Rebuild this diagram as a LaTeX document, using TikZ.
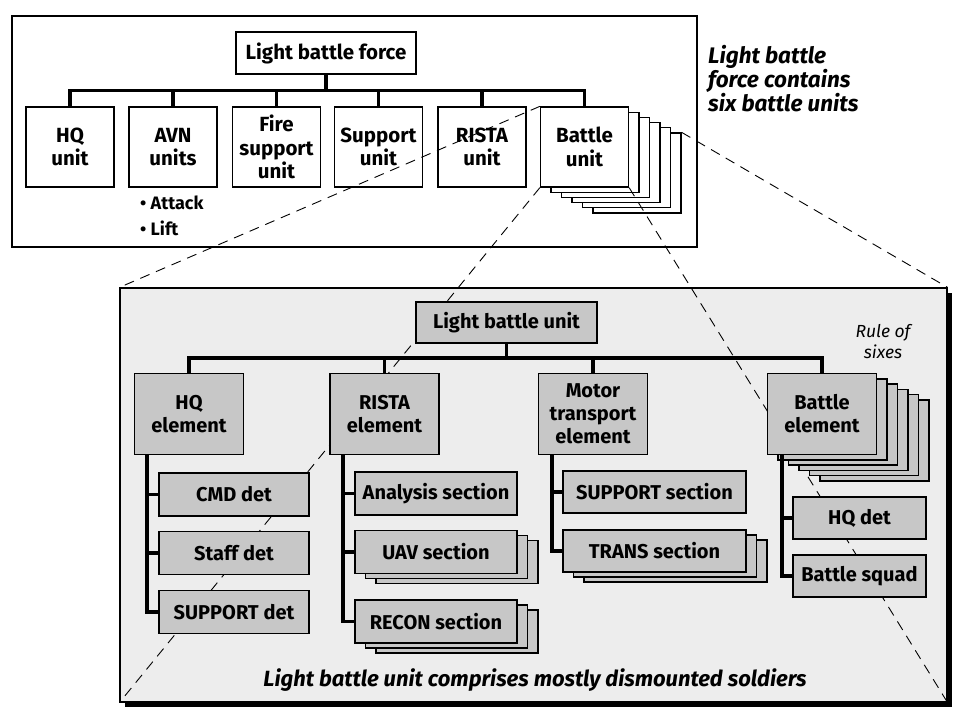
\documentclass[tikz,border=0pt]{standalone}
\usepackage{fontspec}
\setmainfont{Fira Sans}
\definecolor{bggray}{gray}{0.93}
\definecolor{boxgray}{gray}{0.78}
\begin{document}
\begin{tikzpicture}[x=1pt,y=-1pt,
  box/.style={draw, line width=1.3pt, fill=white, align=center, inner sep=0pt, font=\fontsize{20.5}{23.5}\selectfont\bfseries},
  gbox/.style={draw, line width=1.5pt, fill=boxgray, align=center, inner sep=0pt, font=\fontsize{20}{23}\selectfont\bfseries},
  conn/.style={line width=3.6pt},
  zoomline/.style={line width=0.9pt, dash pattern=on 10pt off 7pt},
  capt/.style={inner sep=0pt, font=\fontsize{22.5}{22.5}\selectfont\bfseries\itshape},
]
\useasboundingbox (0,0) rectangle (958,712);

% ---------- top panel ----------
\node[draw, line width=1.2pt, minimum width=685pt, minimum height=231pt, inner sep=0pt] (topframe) at (354.5,131.5) {};
\node[box, minimum width=180pt, minimum height=42pt] (lbf) at (326,53) {Light battle force};
\coordinate (tbar) at (0,90.5);

\foreach \k in {5,4,...,1}
  \node[box, minimum width=88pt, minimum height=80pt] (bu\k) at ({584.5+10.5*\k},{147+5.2*\k}) {};

\node[box, minimum width=88pt, minimum height=80pt] (hqu) at (70,147) {HQ\\unit};
\node[box, minimum width=88pt, minimum height=80pt] (avn) at (173,147) {AVN\\units};
\node[box, minimum width=88pt, minimum height=80pt] (fire) at (276.5,147) {Fire\\support\\unit};
\node[box, minimum width=88pt, minimum height=80pt] (sup) at (378.5,147) {Support\\unit};
\node[box, minimum width=88pt, minimum height=80pt] (rista) at (482,147) {RISTA\\unit};
\node[box, minimum width=88pt, minimum height=80pt] (battle) at (584.5,147) {Battle\\unit};

\draw[conn] (hqu.north) -- (hqu.north |- tbar) -- (battle.north |- tbar) -- (battle.north);
\draw[conn] (lbf.south) -- (lbf.south |- tbar);
\foreach \n in {avn,fire,sup,rista}
  \draw[conn] (\n.north) -- (\n.north |- tbar);

\node[anchor=west, inner sep=0pt, font=\fontsize{18}{22}\selectfont\bfseries] (att) at (140,203) {\textbullet\ Attack};
\node[anchor=west, inner sep=0pt, font=\fontsize{18}{22}\selectfont\bfseries] (lift) at (140,228) {\textbullet\ Lift};

\node[capt, anchor=north west, align=left] (cap1) at (708,45) {Light battle\\force contains\\six battle units};

% ---------- bottom panel ----------
\node[fill=black, minimum width=827pt, minimum height=414pt, inner sep=0pt] (shadow) at (538.5,500) {};
\node[draw, line width=1.2pt, fill=bggray, minimum width=827pt, minimum height=414pt, inner sep=0pt] (big) at (533.5,495) {};

% zoom lines
\draw[zoomline] (battle.north west) -- (big.north west);
\draw[zoomline] (battle.south west) -- (big.south west);
\draw[zoomline] (battle.south east) -- (big.south east);
\draw[zoomline] (bu5.north east) -- (big.north east);

\node[gbox, minimum width=181pt, minimum height=41pt] (lbu) at (506.5,322.5) {Light battle unit};
\coordinate (bbar) at (0,358);

\foreach \k in {5,4,...,1}
  \node[gbox, minimum width=109pt, minimum height=81pt] (be\k) at ({822+10.5*\k},{414+5.3*\k}) {};

\node[gbox, minimum width=109pt, minimum height=81pt] (hqe) at (189,414) {HQ\\element};
\node[gbox, minimum width=109pt, minimum height=81pt] (re) at (384.5,414) {RISTA\\element};
\node[gbox, minimum width=109pt, minimum height=81pt] (mte) at (593,414) {Motor\\transport\\element};
\node[gbox, minimum width=109pt, minimum height=81pt] (be) at (822,414) {Battle\\element};

\draw[conn] (hqe.north) -- (hqe.north |- bbar) -- (be.north |- bbar) -- (be.north);
\draw[conn] (lbu.south) -- (lbu.south |- bbar);
\draw[conn] (re.north) -- (re.north |- bbar);
\draw[conn] (mte.north) -- (mte.north |- bbar);

% HQ element children
\node[gbox, minimum width=150pt, minimum height=43pt] (cmd) at (234,494.5) {CMD det};
\node[gbox, minimum width=150pt, minimum height=43pt] (staff) at (234,553) {Staff det};
\node[gbox, minimum width=150pt, minimum height=43pt] (supdet) at (234,612) {SUPPORT det};

% RISTA element children
\foreach \k in {2,1}
  \node[gbox, minimum width=162pt, minimum height=43pt] (uav\k) at ({436+10.5*\k},{552+5*\k}) {};
\foreach \k in {2,1}
  \node[gbox, minimum width=162pt, minimum height=43pt] (recon\k) at ({436+10.5*\k},{621.5+5*\k}) {};
\node[gbox, minimum width=162pt, minimum height=43pt] (ana) at (436,493.5) {Analysis section};
\node[gbox, minimum width=162pt, minimum height=43pt] (uav) at (436,552) {UAV section};
\node[gbox, minimum width=162pt, minimum height=43pt] (recon) at (436,621.5) {RECON section};

% Motor transport children
\foreach \k in {2,1}
  \node[gbox, minimum width=183pt, minimum height=42pt] (trans\k) at ({654.5+10.5*\k},{551+5*\k}) {};
\node[gbox, minimum width=183pt, minimum height=42pt] (supsec) at (654.5,492) {SUPPORT section};
\node[gbox, minimum width=183pt, minimum height=42pt] (trans) at (654.5,551) {TRANS section};

% Battle element children
\node[gbox, minimum width=133pt, minimum height=42pt] (hqdet) at (859.5,518) {HQ det};
\node[gbox, minimum width=133pt, minimum height=42pt] (squad) at (859.5,576) {Battle squad};

\coordinate (hqv) at (147,454.5);
\coordinate (rv) at (343,454.5);
\coordinate (mv) at (552,454.5);
\coordinate (bv) at (782,454.5);

\draw[conn] (hqv) -- (hqv |- supdet.west) -- (supdet.west);
\draw[conn] (cmd.west) -- (cmd.west -| hqv);
\draw[conn] (staff.west) -- (staff.west -| hqv);

\draw[conn] (rv) -- (rv |- recon.west) -- (recon.west);
\draw[conn] (ana.west) -- (ana.west -| rv);
\draw[conn] (uav.west) -- (uav.west -| rv);

\draw[conn] (mv) -- (mv |- trans.west) -- (trans.west);
\draw[conn] (supsec.west) -- (supsec.west -| mv);

\draw[conn] (bv) -- (bv |- squad.west) -- (squad.west);
\draw[conn] (hqdet.west) -- (hqdet.west -| bv);

\node[align=center, inner sep=0pt, font=\fontsize{17.5}{21}\selectfont\itshape] (rule) at (883,342) {Rule of\\sixes};
\node[capt, font=\fontsize{22}{24}\selectfont\bfseries\itshape] (cap2) at (535,680) {Light battle unit comprises mostly dismounted soldiers};
\end{tikzpicture}
\end{document}
